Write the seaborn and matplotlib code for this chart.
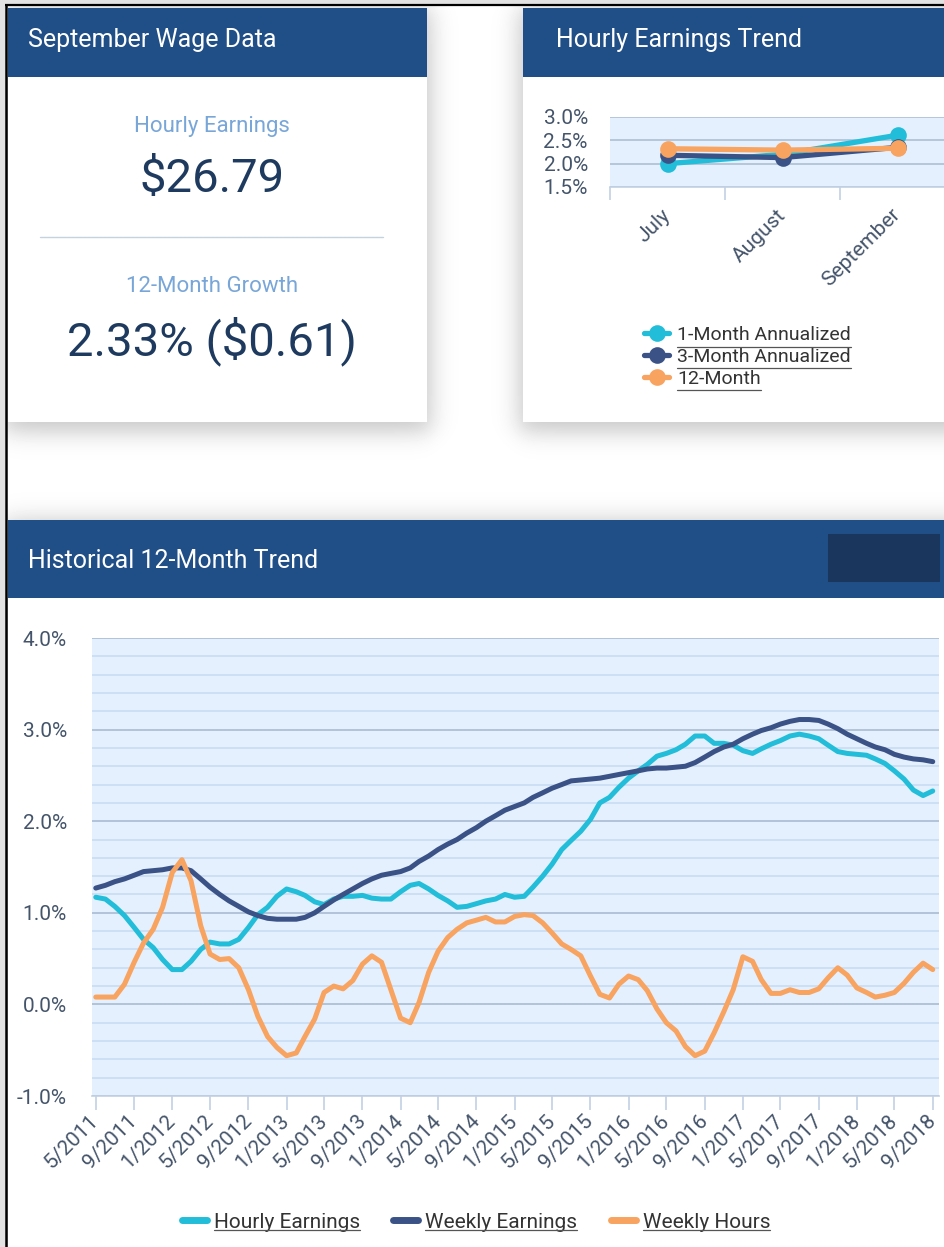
import numpy as np
import pandas as pd
import matplotlib
matplotlib.use("Agg")
import matplotlib.pyplot as plt
import matplotlib.patches as mpatches
from matplotlib.lines import Line2D
from matplotlib.ticker import MultipleLocator, FixedLocator
import seaborn as sns

# ---------------- data ----------------
months = pd.date_range("2011-05-01", periods=89, freq="MS")

hourly_earnings = [
    1.17, 1.15, 1.07, 0.97, 0.84, 0.71, 0.62, 0.49, 0.38, 0.38, 0.47, 0.60,
    0.68, 0.66, 0.66, 0.71, 0.84, 0.98, 1.06, 1.18, 1.26, 1.23, 1.19,
    1.12, 1.09, 1.15, 1.18, 1.18, 1.19, 1.16, 1.15, 1.15, 1.23, 1.30, 1.32,
    1.26, 1.19, 1.13, 1.06, 1.07, 1.10, 1.13, 1.15, 1.20,
    1.17, 1.18, 1.28, 1.40, 1.53, 1.69, 1.79, 1.89, 2.02, 2.20, 2.26, 2.37,
    2.47, 2.55, 2.62, 2.71, 2.74, 2.78, 2.84, 2.93, 2.93, 2.85,
    2.85, 2.83, 2.77, 2.74, 2.79, 2.84, 2.88, 2.93, 2.95, 2.93, 2.90, 2.83,
    2.76, 2.74, 2.73, 2.72, 2.68, 2.63, 2.55, 2.46, 2.34, 2.28, 2.33,
]
weekly_earnings = [
    1.27, 1.30, 1.34, 1.37, 1.41, 1.45, 1.46, 1.47, 1.49, 1.49, 1.46, 1.37,
    1.28, 1.20, 1.13, 1.07, 1.01, 0.97, 0.94, 0.93, 0.93, 0.93, 0.95,
    1.00, 1.07, 1.14, 1.20, 1.26, 1.32, 1.37, 1.41, 1.43, 1.45, 1.49, 1.56,
    1.62, 1.69, 1.75, 1.80, 1.87, 1.93, 2.00, 2.06, 2.12,
    2.16, 2.20, 2.26, 2.31, 2.36, 2.40, 2.44, 2.45, 2.46, 2.47, 2.49, 2.51,
    2.53, 2.55, 2.57, 2.58, 2.58, 2.59, 2.60, 2.64, 2.70, 2.76,
    2.81, 2.84, 2.90, 2.95, 2.99, 3.02, 3.06, 3.09, 3.11, 3.11, 3.10, 3.06,
    3.01, 2.95, 2.90, 2.85, 2.81, 2.78, 2.73, 2.70, 2.68, 2.67, 2.65,
]
weekly_hours = [
    0.08, 0.08, 0.08, 0.22, 0.46, 0.67, 0.82, 1.06, 1.44, 1.58, 1.35, 0.86,
    0.55, 0.49, 0.50, 0.40, 0.16, -0.13, -0.35, -0.47, -0.56, -0.53, -0.35,
    -0.16, 0.13, 0.20, 0.17, 0.26, 0.44, 0.53, 0.46, 0.16, -0.15, -0.20, 0.02,
    0.35, 0.58, 0.73, 0.82, 0.89, 0.92, 0.95, 0.90, 0.90,
    0.96, 0.98, 0.97, 0.89, 0.78, 0.66, 0.60, 0.53, 0.31, 0.11, 0.07, 0.22,
    0.31, 0.27, 0.15, -0.05, -0.20, -0.29, -0.46, -0.56, -0.51, -0.31,
    -0.08, 0.16, 0.52, 0.47, 0.27, 0.12, 0.12, 0.16, 0.13, 0.13, 0.17, 0.29,
    0.40, 0.32, 0.18, 0.13, 0.08, 0.10, 0.13, 0.23, 0.35, 0.45, 0.38,
]
history_series = ["Hourly Earnings", "Weekly Earnings", "Weekly Hours"]
history_ticks = pd.date_range("2011-05-01", "2018-09-01", freq="4MS")
history_tick_labels = [f"{d.month}/{d.year}" for d in history_ticks]
history_yticks = [-1.0, 0.0, 1.0, 2.0, 3.0, 4.0]

trend_months = ["July", "August", "September"]
trend_series = ["1-Month Annualized", "3-Month Annualized", "12-Month"]
one_month_annualized = [2.00, 2.20, 2.61]
three_month_annualized = [2.18, 2.13, 2.35]
twelve_month = [2.32, 2.29, 2.33]
trend_yticks = [1.5, 2.0, 2.5, 3.0]

hourly_earnings_value = "$26.79"
growth_value = "2.33% ($0.61)"

# ---------------- style ----------------
sns.set_theme(style="white")
plt.rcParams["font.family"] = ["Roboto", "DejaVu Sans"]

CYAN = "#22BDD8"
NAVY = "#3A5286"
ORANGE = "#F8A35F"
HEADER = "#204E87"
TICK_TXT = "#44546A"
LEGEND_TXT = "#333333"
PLOT_BG = "#E4F0FD"
GRID_MAJOR = "#A9BBD3"
GRID_MINOR = "#C9DCF4"
AXIS_LINE = "#C2D0E3"

W, H = 944, 1247
fig = plt.figure(figsize=(W / 100, H / 100), dpi=100)


def px_axes(x0, y0, x1, y1):
    return fig.add_axes([x0 / W, 1 - y1 / H, (x1 - x0) / W, (y1 - y0) / H])


# ---------------- page background with card shadows ----------------
bg = fig.add_axes([0, 0, 1, 1])
yy, xx = np.mgrid[0:H, 0:W] + 0.5


def soft_box(x0, x1, y0, y1, s):
    edge = lambda d: 0.5 * (1 + np.tanh(d / s))
    return edge(xx - x0) * edge(x1 - xx) * edge(yy - y0) * edge(y1 - yy)


cards = [(8, 427, 8, 422), (523, 990, 8, 422), (8, 990, 520, 1300)]
shade = np.zeros((H, W))
for x0, x1, y0, y1 in cards:
    shade = np.maximum(shade, soft_box(x0 - 4, x1 + 4, y0, y1 + 10, 14))
bg.imshow(1 - 0.22 * shade, cmap="gray", vmin=0, vmax=1,
          extent=[0, W, H, 0], interpolation="bilinear", zorder=0)
bg.set_xlim(0, W)
bg.set_ylim(H, 0)
bg.axis("off")

for x0, x1, y0, y1 in cards:
    bg.add_patch(mpatches.Rectangle((x0, y0), x1 - x0, y1 - y0,
                                    facecolor="white", edgecolor="none", zorder=2))
bg.add_patch(mpatches.Rectangle((8, 8), 419, 69, facecolor=HEADER, edgecolor="none", zorder=3))
bg.add_patch(mpatches.Rectangle((523, 8), 430, 69, facecolor=HEADER, edgecolor="none", zorder=3))
bg.add_patch(mpatches.Rectangle((8, 520), 940, 78, facecolor=HEADER, edgecolor="none", zorder=3))
bg.add_patch(mpatches.Rectangle((828, 534), 112, 48, facecolor="#1B365D", edgecolor="none", zorder=4))

# frame around the page
bg.add_patch(mpatches.Rectangle((0, 0), W, 4, facecolor="#E2E2E2", edgecolor="none", zorder=4))
bg.add_patch(mpatches.Rectangle((0, 0), 4.5, H, facecolor="#E2E2E2", edgecolor="none", zorder=4))
bg.plot([5, W], [5, 5], color="black", lw=1.6, zorder=5, solid_capstyle="butt")
bg.plot([6, 6], [5, H], color="black", lw=1.8, zorder=5, solid_capstyle="butt")

# card titles
for txt, x, y in [("September Wage Data", 28, 47),
                  ("Hourly Earnings Trend", 556, 47),
                  ("Historical 12-Month Trend", 28, 568)]:
    bg.text(x, y, txt, color="white", fontsize=18, ha="left", va="baseline", zorder=6)

# wage summary card
bg.text(212, 132, "Hourly Earnings", color="#78A6D8", fontsize=16, ha="center", va="baseline", zorder=6)
bg.text(212, 192, hourly_earnings_value, color="#1E3B5F", fontsize=34, ha="center", va="baseline", zorder=6)
bg.plot([40, 383], [237, 237], color="#C6D2DE", lw=1.0, zorder=6)
bg.text(212, 292, "12-Month Growth", color="#78A6D8", fontsize=16, ha="center", va="baseline", zorder=6)
bg.text(212, 355, growth_value, color="#1E3B5F", fontsize=34, ha="center", va="baseline", zorder=6)

# ---------------- hourly earnings trend (small chart) ----------------
trend_df = pd.DataFrame({
    "month": trend_months * 3,
    "series": np.repeat(trend_series, 3),
    "value": one_month_annualized + three_month_annualized + twelve_month,
})
ax_t = px_axes(610, 117, 955, 187)
ax_t.set_facecolor(PLOT_BG)
sns.lineplot(data=trend_df, x="month", y="value", hue="series", hue_order=trend_series,
             palette=[CYAN, NAVY, ORANGE], marker="o", markersize=12, markeredgewidth=0,
             linewidth=3.8, sort=False, estimator=None, ax=ax_t)
ax_t.set_xlim(-0.5, 2.5)
ax_t.set_ylim(1.5, 3.0)
ax_t.set_xlabel("")
ax_t.set_ylabel("")
ax_t.set_yticks(trend_yticks)
ax_t.set_yticklabels([f"{v:.1f}%" for v in trend_yticks])
ax_t.set_xticks(range(len(trend_months)))
ax_t.set_xticklabels(trend_months, rotation=45, ha="right", va="center", rotation_mode="anchor")
ax_t.xaxis.set_minor_locator(FixedLocator([-0.5, 0.5, 1.5]))
ax_t.tick_params(axis="x", which="major", length=0, pad=18, labelsize=15, labelcolor=TICK_TXT)
ax_t.tick_params(axis="x", which="minor", length=9, width=1.2, color=AXIS_LINE, bottom=True)
ax_t.tick_params(axis="y", length=0, pad=16, labelsize=15, labelcolor=TICK_TXT)
ax_t.grid(axis="y", color=GRID_MAJOR, lw=1.1)
ax_t.grid(axis="x", visible=False)
ax_t.set_axisbelow(True)
for side in ["top", "right", "left"]:
    ax_t.spines[side].set_visible(False)
ax_t.spines["bottom"].set_color(AXIS_LINE)
ax_t.spines["bottom"].set_linewidth(1.2)
t_handles, t_labels = ax_t.get_legend_handles_labels()
leg_t = ax_t.legend(t_handles, t_labels, loc="center left",
                    bbox_to_anchor=(644 / W, 1 - 357 / H), bbox_transform=fig.transFigure,
                    frameon=False, fontsize=14, handlelength=1.3, handletextpad=0.4,
                    labelspacing=0.2, borderpad=0, borderaxespad=0)
for t in leg_t.get_texts():
    t.set_color(LEGEND_TXT)

# ---------------- historical 12-month trend ----------------
hist_df = pd.DataFrame({"month": months,
                        "Hourly Earnings": hourly_earnings,
                        "Weekly Earnings": weekly_earnings,
                        "Weekly Hours": weekly_hours}).melt(
    id_vars="month", var_name="series", value_name="value")
ax = px_axes(92, 638, 939, 1096)
ax.set_facecolor(PLOT_BG)
sns.lineplot(data=hist_df, x="month", y="value", hue="series", hue_order=history_series,
             palette=[CYAN, NAVY, ORANGE], linewidth=3.6, estimator=None, ax=ax)
ax.set_xlim(months[0] - pd.Timedelta(days=12), months[-1] + pd.Timedelta(days=20))
ax.set_ylim(-1.0, 4.0)
ax.set_xlabel("")
ax.set_ylabel("")
ax.set_yticks(history_yticks)
ax.set_yticklabels([f"{v:.1f}%" for v in history_yticks])
ax.yaxis.set_minor_locator(MultipleLocator(0.2))
ax.set_xticks(history_ticks)
ax.set_xticklabels(history_tick_labels, rotation=45, ha="right", va="center", rotation_mode="anchor")
ax.tick_params(axis="x", which="major", length=10, width=1.2, color=AXIS_LINE, bottom=True,
               pad=6, labelsize=15, labelcolor=TICK_TXT)
ax.tick_params(axis="y", which="both", length=0, pad=18, labelsize=15, labelcolor=TICK_TXT)
ax.grid(axis="y", which="minor", color=GRID_MINOR, lw=1.2)
ax.grid(axis="y", which="major", color=GRID_MAJOR, lw=1.2)
ax.grid(axis="x", visible=False)
ax.set_axisbelow(True)
for side in ["top", "right", "left"]:
    ax.spines[side].set_visible(False)
ax.spines["bottom"].set_color(AXIS_LINE)
ax.spines["bottom"].set_linewidth(1.2)
h_handles, h_labels = ax.get_legend_handles_labels()
for h in h_handles:
    h.set_linewidth(5)
leg_h = ax.legend(h_handles, h_labels, loc="center",
                  bbox_to_anchor=(476 / W, 1 - 1222 / H), bbox_transform=fig.transFigure,
                  ncol=3, frameon=False, fontsize=15, handlelength=1.2, handletextpad=0.34,
                  columnspacing=1.6, borderpad=0, borderaxespad=0)
for t in leg_h.get_texts():
    t.set_color(LEGEND_TXT)

# underline the legend entries like links
fig.canvas.draw()
renderer = fig.canvas.get_renderer()
for t in list(leg_t.get_texts()) + list(leg_h.get_texts()):
    bb = t.get_window_extent(renderer)
    _, _, descent = renderer.get_text_width_height_descent(t.get_text(), t.get_fontproperties(), ismath=False)
    y = bb.y0 + descent - 2.5
    fig.add_artist(Line2D([bb.x0 / W, bb.x1 / W], [y / H, y / H],
                          transform=fig.transFigure, color="#555555", lw=0.9))

fig.savefig("out.png", dpi=100)
